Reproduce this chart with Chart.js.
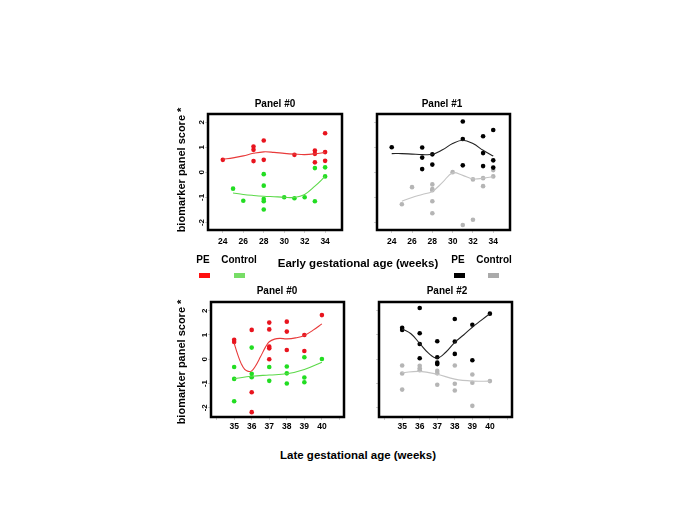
<!DOCTYPE html>
<html>
<head>
<meta charset="utf-8">
<script src="https://cdn.jsdelivr.net/npm/chart.js@4.4.0/dist/chart.umd.min.js"></script>
<style>
body { margin: 0; background: #fff; width: 685px; height: 513px; position: relative; overflow: hidden;
       font-family: "Liberation Sans", Arial, sans-serif; font-weight: bold; color: #000; }
canvas { position: absolute; }
.t { position: absolute; white-space: nowrap; transform: translate(-50%, -50%); }
.yt { position: absolute; white-space: nowrap; transform: translate(-50%, -50%) rotate(-90deg); font-size: 11px; }
.sw { position: absolute; width: 11px; height: 5px; }
</style>
</head>
<body>
<canvas id="e0"></canvas>
<canvas id="e1"></canvas>
<canvas id="l0"></canvas>
<canvas id="l2"></canvas>

<div class="t" style="left:275px;top:103px;font-size:10px">Panel #0</div>
<div class="t" style="left:442px;top:103px;font-size:10px">Panel #1</div>
<div class="t" style="left:277px;top:290px;font-size:10px">Panel #0</div>
<div class="t" style="left:447px;top:290px;font-size:10px">Panel #2</div>

<div class="yt" style="left:181px;top:170px">biomarker panel score *</div>
<div class="yt" style="left:181px;top:362px">biomarker panel score *</div>

<div class="t" style="left:358px;top:263px;font-size:11.5px">Early gestational age (weeks)</div>
<div class="t" style="left:358px;top:455px;font-size:11.5px">Late gestational age (weeks)</div>

<div class="t" style="left:203px;top:259px;font-size:10px">PE</div>
<div class="t" style="left:239px;top:259px;font-size:10px">Control</div>
<div class="sw" style="left:199px;top:273px;background:#ff1010"></div>
<div class="sw" style="left:234px;top:273px;background:#77dd66"></div>
<div class="t" style="left:458px;top:259px;font-size:10px">PE</div>
<div class="t" style="left:494px;top:259px;font-size:10px">Control</div>
<div class="sw" style="left:454px;top:273px;background:#000"></div>
<div class="sw" style="left:488px;top:273px;background:#aaa"></div>

<script>
// tick values
const earlyTicks = [24, 26, 28, 30, 32, 34];
const lateTicks = [34, 35, 36, 37, 38, 39, 40, 41];
const lateLabelled = [35, 36, 37, 38, 39, 40];
const scoreTicks = [-2, -1, 0, 1, 2];

// early, panel #0  [week, score]
const e0Pe = [[24,0.50],[27,1.03],[27,0.90],[27,0.45],[28,1.27],[28,0.50],[31,0.70],[33,0.87],[33,0.74],[33,0.40],[34,1.56],[34,0.81],[34,0.46]];
const e0PeFit = [[24,0.52],[25,0.58],[26,0.66],[27,0.76],[28,0.82],[29,0.80],[30,0.76],[31,0.73],[32,0.71],[33,0.74],[34,0.80]];
const e0Ctrl = [[25,-0.65],[26,-1.13],[28,-0.07],[28,-0.53],[28,-1.06],[28,-1.15],[28,-1.48],[30,-0.99],[31,-1.03],[32,-0.99],[33,-1.15],[33,0.17],[34,0.20],[34,-0.16]];
const e0CtrlFit = [[25,-0.82],[26,-0.88],[27,-0.92],[28,-0.95],[29,-0.97],[30,-0.99],[31,-1.0],[32,-0.88],[33,-0.55],[34,-0.16]];

// early, panel #1
const e1Pe = [[24,1.0],[27,0.99],[27,0.59],[27,0.13],[28,0.72],[28,0.31],[31,2.03],[31,1.33],[31,0.28],[33,1.44],[33,0.77],[33,0.25],[34,1.69],[34,0.48],[34,0.19]];
const e1PeFit = [[24,0.75],[25,0.75],[26,0.73],[27,0.71],[28,0.72],[29,0.90],[30,1.15],[31,1.28],[32,1.15],[33,0.88],[34,0.65]];
const e1Ctrl = [[25,-1.27],[26,-0.59],[28,-0.48],[28,-0.67],[28,-0.71],[28,-1.15],[28,-1.63],[30,0.01],[31,-2.10],[32,-0.28],[32,-1.89],[33,-0.23],[33,-0.55],[34,-0.16],[34,0.09]];
const e1CtrlFit = [[25,-1.15],[26,-1.0],[27,-0.88],[28,-0.76],[29,-0.40],[30,-0.02],[31,-0.12],[32,-0.26],[33,-0.23],[34,-0.17]];

// late, panel #0
const l0Pe = [[35,0.80],[35,0.71],[36,1.21],[36,-1.36],[36,-2.18],[37,1.51],[37,1.23],[37,0.52],[37,0.45],[37,0.0],[38,1.55],[38,1.14],[38,0.38],[39,1.0],[39,0.34],[40,1.82]];
const l0PeFit = [[35,0.66],[35.2,0.20],[35.4,-0.18],[35.6,-0.42],[35.8,-0.50],[36,-0.48],[36.2,-0.30],[36.5,0.10],[36.8,0.52],[37,0.72],[37.3,0.83],[37.6,0.86],[38,0.84],[38.5,0.88],[39,0.98],[39.5,1.20],[40,1.46]];
const l0Ctrl = [[35,-0.32],[35,-0.81],[35,-1.73],[36,0.48],[36,-0.60],[36,-0.74],[37,-0.32],[37,-0.89],[38,-0.30],[38,-0.58],[38,-1.0],[39,0.08],[39,-0.75],[39,-0.95],[40,0.01]];
const l0CtrlFit = [[35,-0.80],[36,-0.70],[37,-0.65],[38,-0.60],[39,-0.42],[40,-0.12]];

// late, panel #2
const l2Pe = [[35,1.30],[35,1.21],[36,2.11],[36,1.07],[36,0.63],[36,0.04],[37,0.74],[37,0.08],[37,-0.14],[37,-0.20],[38,1.66],[38,0.73],[38,0.22],[39,1.42],[39,-0.04],[40,1.88]];
const l2PeFit = [[35,1.25],[35.5,1.05],[36,0.65],[36.5,0.25],[37,0.05],[37.5,0.30],[38,0.70],[38.5,1.0],[39,1.32],[39.5,1.60],[40,1.88]];
const l2Ctrl = [[35,-0.26],[35,-0.59],[35,-1.25],[36,-0.27],[36,-0.37],[36,-0.45],[37,-0.48],[37,-0.58],[37,-1.05],[38,-0.26],[38,-1.01],[38,-1.29],[39,-0.63],[39,-0.97],[39,-1.92],[40,-0.90]];
const l2CtrlFit = [[35,-0.55],[36,-0.50],[37,-0.62],[38,-0.82],[39,-0.90],[40,-0.90]];

const FONT = 'Liberation Sans, Arial, sans-serif';

function pts(a) { return a.map(p => ({x: p[0], y: p[1]})); }

function dots(a, col) {
    return {data: pts(a), backgroundColor: col, borderWidth: 0, pointRadius: 2.3, showLine: false};
}
function fit(a, col) {
    return {data: pts(a), borderColor: col, borderWidth: 1.1, pointRadius: 0, showLine: true, tension: 0.4, fill: false};
}

// thick black box round the plot area
const frame = {
    id: 'frame',
    afterDraw(chart) {
        const a = chart.chartArea, c = chart.ctx;
        c.save();
        c.strokeStyle = '#000';
        c.lineWidth = 2.5;
        c.strokeRect(a.left, a.top, a.right - a.left, a.bottom - a.top);
        c.restore();
    }
};

function panel(id, box, xMin, xMax, xTicks, xShown, xPad, yMin, yMax, yLabels, datasets) {
    const cv = document.getElementById(id);
    cv.width = box[2] + 50;
    cv.height = box[3] + 30;
    cv.style.left = (box[0] - 40) + 'px';
    cv.style.top = (box[1] - 10) + 'px';
    new Chart(cv.getContext('2d'), {
        type: 'scatter',
        data: {datasets: datasets},
        options: {
            responsive: false,
            animation: false,
            devicePixelRatio: 1,
            layout: {padding: {top: 10, right: 10, left: 0, bottom: 0}},
            plugins: {legend: {display: false}, tooltip: {enabled: false}},
            scales: {
                x: {
                    type: 'linear', min: xMin, max: xMax,
                    afterBuildTicks: s => { s.ticks = xTicks.map(v => ({value: v})); },
                    afterFit: s => { s.height = 20; },
                    border: {display: false},
                    grid: {drawOnChartArea: false, tickLength: 3, tickColor: '#cfcfcf'},
                    ticks: {
                        autoSkip: false, maxRotation: 0, padding: xPad, color: '#000',
                        font: {family: FONT, size: 8.5, weight: 'bold'},
                        callback: v => xShown.includes(v) ? v : ''
                    }
                },
                y: {
                    type: 'linear', min: yMin, max: yMax,
                    afterBuildTicks: s => { s.ticks = scoreTicks.map(v => ({value: v})); },
                    afterFit: s => { s.width = 40; },
                    border: {display: false},
                    grid: {drawOnChartArea: false, tickLength: 3, tickColor: '#cfcfcf'},
                    ticks: {
                        minRotation: 90, maxRotation: 90, crossAlign: 'center', padding: 0, color: '#000',
                        font: {family: FONT, size: 8, weight: 'bold'},
                        callback: v => yLabels ? v : ''
                    }
                }
            }
        },
        plugins: [frame]
    });
}

panel('e0', [208, 114, 134, 116], 22.55, 35.65, earlyTicks, earlyTicks, 4, -2.3, 2.33, true, [
    fit(e0PeFit, '#e83a3a'), fit(e0CtrlFit, '#5cd94a'),
    dots(e0Pe, '#e8141e'), dots(e0Ctrl, '#22dd22')
]);
panel('e1', [377, 114, 133, 116], 22.55, 35.65, earlyTicks, earlyTicks, 4, -2.3, 2.33, false, [
    fit(e1PeFit, '#222'), fit(e1CtrlFit, '#c4c4c4'),
    dots(e1Pe, '#000'), dots(e1Ctrl, '#b5b5b5')
]);
panel('l0', [211, 302, 133, 115], 33.68, 41.26, lateTicks, lateLabelled, 2, -2.38, 2.36, true, [
    fit(l0PeFit, '#e83a3a'), fit(l0CtrlFit, '#5cd94a'),
    dots(l0Pe, '#e8141e'), dots(l0Ctrl, '#22dd22')
]);
panel('l2', [379, 302, 133, 115], 33.68, 41.26, lateTicks, lateLabelled, 2, -2.38, 2.36, false, [
    fit(l2PeFit, '#222'), fit(l2CtrlFit, '#c4c4c4'),
    dots(l2Pe, '#000'), dots(l2Ctrl, '#b5b5b5')
]);
</script>
</body>
</html>
